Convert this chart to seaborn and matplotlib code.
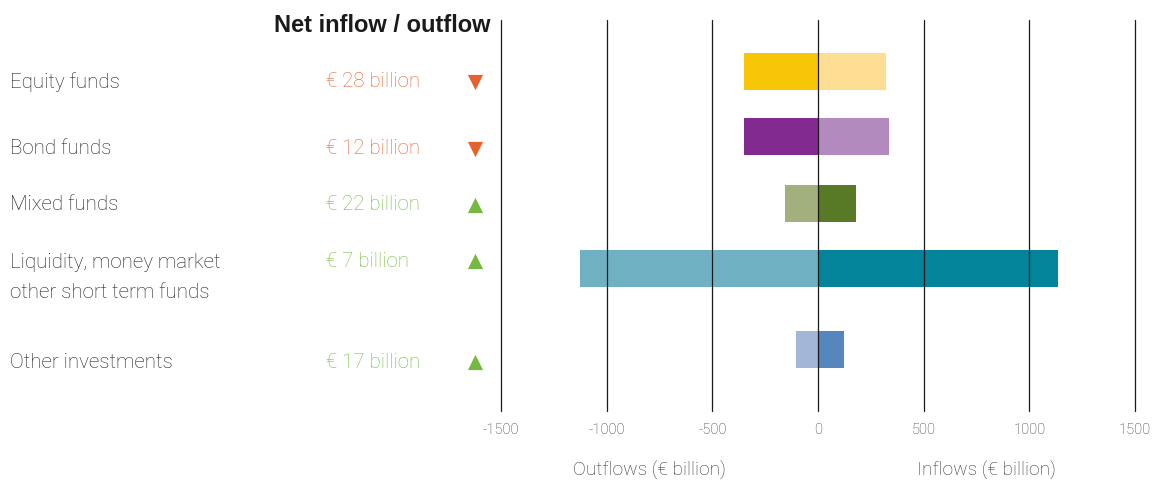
import matplotlib
matplotlib.use("Agg")
import matplotlib.pyplot as plt
import matplotlib.transforms as mtransforms
import pandas as pd
import seaborn as sns

# Fund categories and flows (EUR billion)
categories = ["Equity funds", "Bond funds", "Mixed funds",
              "Liquidity, money market\nother short term funds", "Other investments"]
outflows = [350, 348, 156, 1128, 105]
inflows = [322, 336, 178, 1135, 122]
net_labels = ["€ 28 billion", "€ 12 billion", "€ 22 billion", "€ 7 billion", "€ 17 billion"]
net_direction = ["down", "down", "up", "up", "up"]

out_colors = ["#F7C606", "#822A8F", "#A2B07E", "#6FB1C2", "#A3B6D8"]
in_colors = ["#FDDD91", "#B38ABE", "#587A26", "#03849A", "#5586BE"]

x_ticks = [-1500, -1000, -500, 0, 500, 1000, 1500]

# Vertical layout of rows (bars and their text labels)
row_pos = [0.0, 1.0, 2.03, 3.03, 4.28]
text_pos = [0.16, 1.19, 2.05, 2.92, 4.47]

sns.set_theme(style="white")
plt.rcParams["font.family"] = ["Roboto", "DejaVu Sans"]
plt.rcParams["axes.unicode_minus"] = False

fig = plt.figure(figsize=(11.56, 4.83), dpi=100)
W, H = 1156, 483
ax = fig.add_axes([501 / W, 1 - 411 / H, (1135 - 501) / W, (411 - 20) / H])

df = pd.DataFrame({
    "category": categories,
    "pos": row_pos,
    "out": [-v for v in outflows],
    "in": inflows,
})

sns.barplot(data=df, x="out", y="pos", hue="category", palette=out_colors,
            orient="h", native_scale=True, dodge=False, width=0.57,
            legend=False, ax=ax, saturation=1, linewidth=0)
sns.barplot(data=df, x="in", y="pos", hue="category", palette=in_colors,
            orient="h", native_scale=True, dodge=False, width=0.57,
            legend=False, ax=ax, saturation=1, linewidth=0)

ax.set_xlim(-1500, 1500)
ax.set_ylim(5.22, -0.79)
ax.set_xticks(x_ticks)
ax.set_xticklabels([str(t) for t in x_ticks])
ax.set_yticks([])
ax.set_xlabel("")
ax.set_ylabel("")
for t in x_ticks:
    ax.axvline(t, color="#1a1a1a", lw=0.9, zorder=3, clip_on=False)
for s in ax.spines.values():
    s.set_visible(False)
ax.tick_params(axis="x", length=0, pad=9, labelsize=10.5, labelcolor="#333333")
for lbl in ax.get_xticklabels():
    lbl.set_fontweight("light")

# Left-hand text columns share the data y scale
trans = mtransforms.blended_transform_factory(fig.transFigure, ax.transData)
orange, green = "#E8602C", "#74BA40"
for i, cat in enumerate(categories):
    y = text_pos[i]
    if "\n" in cat:
        fig.text(10 / W, y + 0.245, cat, transform=trans, ha="left", va="center",
                 fontsize=14.8, color="#1e1e1e", fontweight="light", linespacing=1.75)
    else:
        fig.text(10 / W, y, cat, transform=trans, ha="left", va="center",
                 fontsize=14.8, color="#1e1e1e", fontweight="light")
    col = orange if net_direction[i] == "down" else green
    fig.text(326 / W, y, net_labels[i], transform=trans, ha="left", va="center",
             fontsize=14.8, color=col, fontweight="light")
    ax.scatter([475 / W], [y], transform=trans, marker="v" if net_direction[i] == "down" else "^",
               s=120, color=col, linewidths=0, clip_on=False, zorder=5)

fig.text(491 / W, 1 - 26 / H, "Net inflow / outflow", ha="right", va="center",
         fontsize=17, fontweight="bold", color="#1a1a1a",
         family=["Liberation Sans", "DejaVu Sans"])

fig.text(649 / W, 1 - 470 / H, "Outflows (€ billion)", ha="center", va="center",
         fontsize=13.8, color="#333333", fontweight="light")
fig.text(986 / W, 1 - 470 / H, "Inflows (€ billion)", ha="center", va="center",
         fontsize=13.8, color="#333333", fontweight="light")

fig.savefig("out.png", dpi=100)
